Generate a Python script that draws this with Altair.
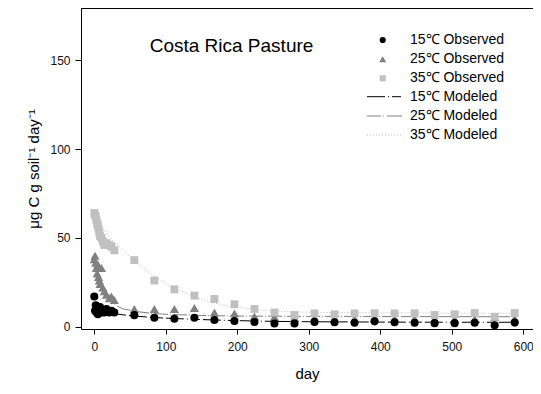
import altair as alt
import pandas as pd

# ---------------- data ----------------
days_early = [0, 1, 2, 3, 4, 5, 6, 7, 8, 10, 12, 14, 17, 21, 24, 28]
days_late = [56, 84, 112, 140, 168, 196, 224, 252, 280, 308, 336, 364, 392,
             420, 448, 476, 504, 532, 560, 588]

obs15_early = [17, 9, 12, 8, 10, 7, 9, 8, 11, 8, 9, 8, 10, 8, 9, 8]
obs15_late = [6.5, 5.0, 4.5, 5.0, 3.8, 3.2, 2.6, 1.8, 1.8, 2.7, 2.5, 2.2, 3.0,
              2.5, 2.2, 2.0, 2.0, 2.2, 0.8, 2.3]

obs25_early = [38, 40, 36, 33, 30, 35, 28, 26, 24, 33, 22, 20, 18, 16, 17, 15]
obs25_late = [10, 10, 10, 10.5, 8, 7.5, 5.8, 5.5, 5, 4.8, 4.5, 4.5, 4.8, 4.5,
              4.5, 4.3, 4.2, 4.5, 5.5, 4.5]

obs35_early = [64, 63, 62, 60, 58, 57, 55, 53, 51, 50, 48, 46, 47, 46, 45, 43]
obs35_late = [37.5, 26, 21, 17.5, 15.6, 12.6, 10, 8, 6.6, 7.5, 7, 7.5, 7.5,
              7.5, 7.5, 6.6, 7, 7.7, 5.6, 7.7]

mod15_days = [0, 5, 10, 20, 30, 50, 75, 100, 150, 200, 250, 300, 400, 500, 590]
mod15_vals = [12, 10, 9, 8, 7.2, 6.2, 5.4, 4.8, 4.0, 3.4, 3.0, 2.8, 2.6, 2.5, 2.5]

mod25_days = [0, 5, 10, 15, 20, 30, 40, 60, 80, 100, 150, 200, 300, 400, 590]
mod25_vals = [40, 31, 24, 19, 16, 12, 10, 8.5, 7.5, 7.0, 6.3, 6.0, 5.8, 5.7, 5.6]

mod35_days = [0, 10, 20, 30, 41, 55, 69, 82, 96, 110, 124, 138, 152, 166, 180,
              208, 236, 274, 302, 350, 400, 500, 590]
mod35_vals = [64, 57, 51, 47, 43, 37, 33, 29, 25.3, 22, 19.7, 17.3, 15, 13.5,
              12.2, 10.5, 9.3, 8.4, 8.1, 7.9, 7.8, 7.6, 7.5]

legend_labels = ["15\u2103 Observed", "25\u2103 Observed", "35\u2103 Observed",
                 "15\u2103 Modeled", "25\u2103 Modeled", "35\u2103 Modeled"]
chart_title = "Costa Rica Pasture"
x_ticks = [0, 100, 200, 300, 400, 500, 600]
y_ticks = [0, 50, 100, 150]

# ---------------- layout ----------------
W, H = 452, 321
FONT = "Liberation Sans"

obs15 = pd.DataFrame({"day": days_early + days_late, "v": obs15_early + obs15_late})
obs25 = pd.DataFrame({"day": days_early + days_late, "v": obs25_early + obs25_late})
obs35 = pd.DataFrame({"day": days_early + days_late, "v": obs35_early + obs35_late})
m15 = pd.DataFrame({"day": mod15_days, "v": mod15_vals})
m25 = pd.DataFrame({"day": mod25_days, "v": mod25_vals})
m35 = pd.DataFrame({"day": mod35_days, "v": mod35_vals})

xs = alt.Scale(domain=[-18.6, 613.6], nice=False, zero=False)
ys = alt.Scale(domain=[-1.3, 179.4], nice=False, zero=False)

X = alt.X("day:Q", scale=xs,
          axis=alt.Axis(values=x_ticks, title="day", tickSize=5, labelPadding=7,
                        titleY=44, titleBaseline="middle", titleFontSize=15))
Y = alt.Y("v:Q", scale=ys,
          axis=alt.Axis(values=y_ticks,
                        title="\u03bcg C  g soil\u207b\u00b9  day\u207b\u00b9",
                        tickSize=6, labelPadding=5, titleX=-48, titleY=H / 2,
                        titleAngle=270, titleAlign="center",
                        titleBaseline="middle", titleFontSize=15))

base_x = alt.X("day:Q", scale=xs)
base_y = alt.Y("v:Q", scale=ys)

line15 = alt.Chart(m15).mark_line(color="black", strokeWidth=1,
                                  strokeDash=[18, 3, 1, 3, 9, 3]).encode(x=X, y=Y)
line25 = alt.Chart(m25).mark_line(color="#808080", strokeWidth=1,
                                  strokeDash=[14, 2, 1, 2]).encode(x=base_x, y=base_y)
line35 = alt.Chart(m35).mark_line(color="#b8b8b8", strokeWidth=1,
                                  strokeDash=[1, 2]).encode(x=base_x, y=base_y)

pts25 = alt.Chart(obs25).mark_point(shape="triangle-up", filled=True, opacity=1,
                                    color="#808080", size=85).encode(x=base_x, y=base_y)
pts35 = alt.Chart(obs35).mark_point(shape="square", filled=True, opacity=1,
                                    color="#c0c0c0", size=62).encode(x=base_x, y=base_y)
pts15 = alt.Chart(obs15).mark_point(shape="circle", filled=True, opacity=1,
                                    color="black", size=65).encode(x=base_x, y=base_y)

# top frame line
frame_top = alt.Chart(pd.DataFrame({"a": [0]})).mark_rule(
    color="black", strokeWidth=1).encode(x=alt.value(0), x2=alt.value(W), y=alt.value(0.5))

title_txt = alt.Chart(pd.DataFrame({"a": [0]})).mark_text(
    text=chart_title, font=FONT, fontSize=19, align="center", baseline="middle",
    color="black").encode(x=alt.value(150.5), y=alt.value(38))

# ---------------- custom legend ----------------
row_y = [32, 51.3, 70.3, 88.7, 108, 127]
sym_x = 301.7
txt_x = 329
one = pd.DataFrame({"a": [0]})
legend_layers = []
legend_layers.append(alt.Chart(one).mark_point(shape="circle", filled=True, opacity=1,
                     color="black", size=38).encode(x=alt.value(sym_x), y=alt.value(row_y[0])))
legend_layers.append(alt.Chart(one).mark_point(shape="triangle-up", filled=True, opacity=1,
                     color="#808080", size=50).encode(x=alt.value(sym_x), y=alt.value(row_y[1])))
legend_layers.append(alt.Chart(one).mark_point(shape="square", filled=True, opacity=1,
                     color="#c0c0c0", size=38).encode(x=alt.value(sym_x), y=alt.value(row_y[2])))
legend_layers.append(alt.Chart(one).mark_rule(color="black", strokeWidth=1,
                     strokeDash=[18, 3, 1, 3, 9, 3]).encode(
                     x=alt.value(286), x2=alt.value(321), y=alt.value(row_y[3])))
legend_layers.append(alt.Chart(one).mark_rule(color="#808080", strokeWidth=1,
                     strokeDash=[14, 2, 1, 3, 16, 3]).encode(
                     x=alt.value(286), x2=alt.value(321), y=alt.value(row_y[4])))
legend_layers.append(alt.Chart(one).mark_rule(color="#b8b8b8", strokeWidth=1,
                     strokeDash=[1, 2]).encode(
                     x=alt.value(286), x2=alt.value(321), y=alt.value(row_y[5])))
for lab, yy in zip(legend_labels, row_y):
    legend_layers.append(alt.Chart(one).mark_text(
        text=lab, font=FONT, fontSize=14, align="left", baseline="middle",
        color="black").encode(x=alt.value(txt_x), y=alt.value(yy)))

chart = alt.layer(
    line15, line25, line35, pts25, pts35, pts15, frame_top, title_txt, *legend_layers
).properties(
    width=W, height=H,
    autosize=alt.AutoSizeParams(type="none"),
    padding={"left": 73, "top": 0, "right": 0, "bottom": 57},
).configure_view(
    stroke=None
).configure_axis(
    labelFont=FONT, titleFont=FONT, labelFontSize=12, labelColor="#111",
    titleColor="black", titleFontWeight="normal", tickColor="black",
    domainColor="black", domainWidth=1, tickWidth=1, grid=False,
)

chart.save("out.html", embed_options={"renderer": "svg", "actions": False})
